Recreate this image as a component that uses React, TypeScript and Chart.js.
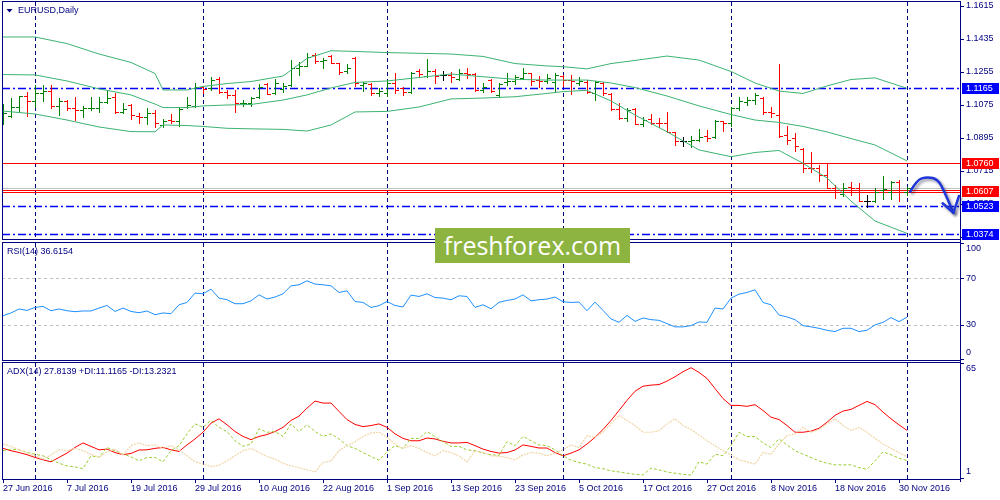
import React, { useEffect, useRef } from "react";
import { Chart, registerables } from "chart.js";

Chart.register(...registerables);

// ---------------- data ----------------
const symbolTitle = "EURUSD,Daily";
const rsiTitle = "RSI(14) 36.6154";
const adxTitle = "ADX(14) 27.8139 +DI:11.1165 -DI:13.2321";

const dateLabels = [
  "27 Jun 2016", "7 Jul 2016", "19 Jul 2016", "29 Jul 2016", "10 Aug 2016",
  "22 Aug 2016", "1 Sep 2016", "13 Sep 2016", "23 Sep 2016", "5 Oct 2016",
  "17 Oct 2016", "27 Oct 2016", "8 Nov 2016", "18 Nov 2016", "30 Nov 2016",
];
const dateLabelIdx = [0, 8, 16, 24, 32, 40, 48, 56, 64, 72, 80, 88, 96, 104, 112];
const monthStartIdx = [4, 25, 48, 70, 91, 113];

const open = [
  1.1016, 1.1017, 1.1063, 1.1126, 1.1099, 1.1139, 1.1154, 1.1070, 1.1099, 1.1058,
  1.1049, 1.1056, 1.1056, 1.1094, 1.1121, 1.1039, 1.1076, 1.1016, 1.1009, 1.1030,
  1.0967, 1.0994, 1.0989, 1.1063, 1.1070, 1.1172, 1.1165, 1.1216, 1.1148, 1.1130,
  1.1085, 1.1085, 1.1118, 1.1190, 1.1139, 1.1161, 1.1185, 1.1276, 1.1288, 1.1348,
  1.1317, 1.1343, 1.1303, 1.1263, 1.1330, 1.1185, 1.1190, 1.1143, 1.1139, 1.1194,
  1.1167, 1.1148, 1.1263, 1.1234, 1.1263, 1.1238, 1.1239, 1.1216, 1.1252, 1.1245,
  1.1158, 1.1212, 1.1130, 1.1203, 1.1208, 1.1221, 1.1248, 1.1212, 1.1208, 1.1203,
  1.1234, 1.1212, 1.1197, 1.1203, 1.1143, 1.1194, 1.1136, 1.1052, 1.1003, 1.1052,
  1.0972, 1.0998, 1.0979, 1.0976, 1.0925, 1.0881, 1.0881, 1.0885, 1.0907, 1.0900,
  1.0985, 1.0976, 1.1058, 1.1094, 1.1103, 1.1112, 1.1039, 1.1021, 1.0912, 1.0894,
  1.0836, 1.0734, 1.0731, 1.0694, 1.0625, 1.0589, 1.0629, 1.0625, 1.0553, 1.0549,
  1.0609, 1.0603, 1.0655, 1.0600,
];
const high = [
  1.1081, 1.1112, 1.1126, 1.1148, 1.1185, 1.1185, 1.1185, 1.1112, 1.1103, 1.1118,
  1.1070, 1.1121, 1.1121, 1.1158, 1.1139, 1.1085, 1.1081, 1.1030, 1.1056, 1.1045,
  1.0998, 1.1027, 1.1063, 1.1121, 1.1194, 1.1179, 1.1230, 1.1227, 1.1158, 1.1158,
  1.1103, 1.1121, 1.1190, 1.1194, 1.1216, 1.1197, 1.1321, 1.1312, 1.1361, 1.1357,
  1.1330, 1.1348, 1.1306, 1.1299, 1.1339, 1.1203, 1.1194, 1.1167, 1.1212, 1.1248,
  1.1175, 1.1257, 1.1270, 1.1325, 1.1270, 1.1263, 1.1257, 1.1270, 1.1276, 1.1248,
  1.1194, 1.1216, 1.1194, 1.1252, 1.1239, 1.1276, 1.1252, 1.1234, 1.1245, 1.1248,
  1.1239, 1.1239, 1.1227, 1.1212, 1.1208, 1.1203, 1.1139, 1.1085, 1.1058, 1.1058,
  1.1012, 1.1027, 1.1003, 1.1039, 1.0930, 1.0900, 1.0907, 1.0943, 1.0940, 1.0994,
  1.0989, 1.1066, 1.1121, 1.1121, 1.1139, 1.1116, 1.1066, 1.1298, 1.0958, 1.0922,
  1.0840, 1.0818, 1.0749, 1.0753, 1.0640, 1.0649, 1.0655, 1.0649, 1.0585, 1.0625,
  1.0690, 1.0658, 1.0667, 1.0630,
];
const low = [
  1.0971, 1.1009, 1.1039, 1.1017, 1.1066, 1.1098, 1.1061, 1.1021, 1.1049, 1.0994,
  1.1009, 1.1049, 1.1039, 1.1085, 1.1030, 1.1034, 1.0998, 1.0979, 1.0972, 1.0954,
  1.0954, 1.0979, 1.0961, 1.1060, 1.1066, 1.1139, 1.1158, 1.1139, 1.1112, 1.1039,
  1.1070, 1.1070, 1.1115, 1.1136, 1.1134, 1.1148, 1.1179, 1.1239, 1.1285, 1.1306,
  1.1276, 1.1303, 1.1245, 1.1252, 1.1179, 1.1154, 1.1130, 1.1125, 1.1125, 1.1143,
  1.1130, 1.1139, 1.1230, 1.1230, 1.1194, 1.1212, 1.1203, 1.1212, 1.1221, 1.1154,
  1.1148, 1.1148, 1.1121, 1.1185, 1.1190, 1.1216, 1.1185, 1.1175, 1.1194, 1.1154,
  1.1179, 1.1136, 1.1185, 1.1143, 1.1103, 1.1130, 1.1049, 1.1000, 1.0985, 1.0969,
  1.0961, 1.0972, 1.0954, 1.0925, 1.0858, 1.0852, 1.0848, 1.0876, 1.0881, 1.0897,
  1.0934, 1.0958, 1.1049, 1.1076, 1.1080, 1.1025, 1.1012, 1.0903, 1.0862, 1.0825,
  1.0709, 1.0712, 1.0661, 1.0622, 1.0567, 1.0576, 1.0585, 1.0549, 1.0521, 1.0545,
  1.0563, 1.0563, 1.0549, 1.0585,
];
const close = [
  1.1030, 1.1063, 1.1125, 1.1099, 1.1139, 1.1154, 1.1070, 1.1099, 1.1058, 1.1049,
  1.1056, 1.1058, 1.1094, 1.1112, 1.1039, 1.1052, 1.1021, 1.1012, 1.1030, 1.0979,
  1.0990, 1.0989, 1.1052, 1.1076, 1.1175, 1.1161, 1.1212, 1.1148, 1.1130, 1.1088,
  1.1088, 1.1112, 1.1175, 1.1136, 1.1194, 1.1179, 1.1276, 1.1288, 1.1339, 1.1317,
  1.1321, 1.1306, 1.1256, 1.1276, 1.1194, 1.1194, 1.1139, 1.1154, 1.1194, 1.1158,
  1.1148, 1.1252, 1.1245, 1.1263, 1.1234, 1.1238, 1.1230, 1.1248, 1.1245, 1.1158,
  1.1172, 1.1154, 1.1190, 1.1208, 1.1227, 1.1252, 1.1208, 1.1208, 1.1221, 1.1239,
  1.1212, 1.1208, 1.1208, 1.1148, 1.1203, 1.1139, 1.1052, 1.1003, 1.1045, 1.0972,
  1.0994, 1.0979, 1.0976, 1.0930, 1.0881, 1.0881, 1.0885, 1.0900, 1.0894, 1.0990,
  1.0976, 1.1058, 1.1098, 1.1103, 1.1130, 1.1039, 1.1030, 1.0907, 1.0885, 1.0854,
  1.0734, 1.0731, 1.0694, 1.0625, 1.0603, 1.0625, 1.0621, 1.0553, 1.0553, 1.0603,
  1.0616, 1.0655, 1.0603, 1.0622,
];

const bbIdx = [0, 4, 8, 12, 16, 19, 20, 23, 25, 28, 31, 35, 38, 41, 44, 48, 52, 56, 60, 64, 68, 70, 73, 76, 79, 83, 87, 91, 94, 97, 100, 103, 106, 109, 113];
const bbUpper = [1.1446, 1.1446, 1.1410, 1.1353, 1.1307, 1.1247, 1.1157, 1.1157, 1.1176, 1.1192, 1.1203, 1.1233, 1.1329, 1.1371, 1.1367, 1.1361, 1.1357, 1.1353, 1.1340, 1.1301, 1.1288, 1.1284, 1.1272, 1.1301, 1.1318, 1.1342, 1.1320, 1.1258, 1.1195, 1.1151, 1.1138, 1.1179, 1.1214, 1.1223, 1.1166];
const bbMiddle = [1.1241, 1.1239, 1.1206, 1.1163, 1.1130, 1.1080, 1.1061, 1.1061, 1.1070, 1.1075, 1.1078, 1.1102, 1.1130, 1.1168, 1.1198, 1.1206, 1.1225, 1.1244, 1.1229, 1.1215, 1.1211, 1.1211, 1.1211, 1.1195, 1.1170, 1.1124, 1.1070, 1.1023, 1.0993, 1.0980, 1.0958, 1.0928, 1.0892, 1.0857, 1.0770];
const bbLower = [1.1042, 1.1026, 1.0993, 1.0955, 1.0930, 1.0929, 1.0966, 1.0963, 1.0958, 1.0948, 1.0945, 1.0942, 1.0933, 1.0966, 1.1037, 1.1040, 1.1064, 1.1108, 1.1113, 1.1120, 1.1138, 1.1148, 1.1155, 1.1097, 1.1020, 1.0929, 1.0830, 1.0793, 1.0816, 1.0827, 1.0757, 1.0677, 1.0551, 1.0442, 1.0375];

const rsi = [
  37.9, 40.2, 43.6, 42.4, 44.9, 45.8, 42.1, 43.6, 42.1, 41.3,
  41.9, 41.9, 44.4, 46.6, 41.5, 44.4, 41.5, 40.4, 41.9, 38.7,
  40.2, 39.6, 47.2, 49.2, 57.2, 56.6, 60.6, 52.9, 51.5, 48.1,
  48.1, 50.6, 55.7, 52.1, 53.8, 56.6, 63.4, 64.3, 67.7, 64.9,
  64.3, 63.4, 57.7, 59.1, 50.0, 49.2, 44.9, 46.4, 50.0, 46.6,
  45.3, 55.5, 54.3, 56.6, 53.4, 52.9, 51.5, 54.9, 54.3, 44.9,
  47.2, 43.8, 49.3, 50.9, 52.1, 55.7, 50.6, 51.5, 52.1, 53.8,
  49.8, 49.2, 49.5, 42.1, 49.5, 42.4, 35.1, 32.2, 38.1, 33.0,
  35.9, 34.5, 33.9, 31.1, 28.3, 28.3, 29.4, 32.5, 32.2, 44.4,
  43.6, 52.9, 56.3, 57.7, 60.0, 49.2, 47.2, 38.5, 36.8, 34.5,
  29.4, 28.3, 27.1, 25.4, 24.3, 27.1, 27.1, 24.3, 25.4, 30.0,
  32.2, 36.2, 32.8, 36.6,
];

const adx = [
  17.9, 16.6, 15.6, 14.4, 12.9, 11.6, 10.5, 12.9, 15.3, 18.4,
  20.9, 19.0, 17.1, 17.5, 15.6, 14.4, 15.1, 17.0, 17.1, 17.9,
  18.4, 17.1, 16.2, 19.8, 23.1, 26.8, 31.8, 34.2, 30.9, 27.2,
  24.5, 22.7, 24.5, 25.5, 27.2, 29.5, 33.3, 35.7, 40.1, 44.0,
  42.9, 42.9, 38.3, 33.8, 31.1, 29.9, 30.5, 31.4, 29.5, 25.9,
  23.4, 22.1, 22.1, 23.6, 23.1, 21.8, 20.9, 20.9, 21.2, 19.4,
  17.5, 16.2, 15.3, 15.6, 17.0, 19.8, 19.0, 18.1, 18.1, 15.6,
  13.8, 15.3, 17.1, 20.3, 24.0, 28.3, 33.3, 38.8, 44.4, 49.4,
  52.2, 52.8, 53.1, 55.0, 57.4, 60.2, 62.4, 59.8, 56.5, 50.9,
  45.4, 41.6, 41.6, 41.1, 42.0, 38.8, 35.1, 33.8, 30.5, 26.8,
  26.8, 27.4, 29.0, 32.3, 36.1, 38.5, 39.4, 41.6, 43.8, 42.0,
  37.9, 34.2, 30.9, 27.8,
];
const plusDI = [
  16.6, 17.5, 17.1, 15.6, 14.7, 13.8, 11.6, 9.7, 8.2, 7.7,
  6.7, 13.8, 12.9, 18.4, 16.6, 14.7, 13.2, 11.0, 12.9, 12.9,
  10.5, 16.6, 19.4, 25.9, 31.4, 29.5, 33.3, 29.5, 27.2, 22.1,
  19.0, 20.3, 28.7, 26.8, 27.2, 24.5, 31.4, 27.2, 30.9, 27.2,
  24.5, 25.9, 23.1, 19.4, 17.9, 15.6, 13.4, 11.4, 16.0, 19.4,
  17.9, 23.4, 23.4, 27.2, 24.4, 21.6, 19.0, 19.0, 17.1, 16.6,
  15.3, 14.4, 14.0, 21.6, 19.4, 24.5, 22.1, 19.8, 19.4, 17.1,
  13.8, 11.4, 10.1, 9.2, 7.3, 6.7, 5.5, 4.9, 4.2, 3.6,
  3.2, 7.0, 6.0, 4.9, 4.2, 3.6, 3.2, 10.5, 9.2, 14.7,
  13.8, 19.4, 26.8, 24.4, 24.4, 20.9, 18.4, 23.1, 19.8, 16.6,
  14.7, 12.9, 11.0, 9.7, 8.8, 8.8, 8.8, 7.3, 6.4, 11.0,
  16.0, 14.4, 12.5, 11.1,
];
const minusDI = [
  20.3, 19.0, 17.1, 15.3, 13.8, 12.0, 14.2, 17.1, 16.6, 17.9,
  16.6, 14.7, 12.9, 16.0, 17.5, 14.2, 19.4, 20.9, 19.4, 19.8,
  17.9, 19.4, 17.0, 13.8, 10.5, 9.2, 7.8, 8.6, 11.0, 13.8,
  16.6, 17.9, 15.6, 13.4, 12.0, 9.7, 8.2, 7.3, 6.0, 4.9,
  10.1, 11.0, 16.6, 19.4, 21.6, 24.4, 26.4, 26.8, 24.0, 20.3,
  17.9, 19.4, 17.9, 15.6, 13.8, 16.6, 15.6, 13.8, 10.5, 16.6,
  15.6, 13.8, 13.5, 12.9, 11.6, 14.2, 15.6, 15.3, 13.8, 15.3,
  17.1, 19.8, 18.4, 24.9, 24.0, 26.8, 31.4, 36.1, 33.3, 30.5,
  26.8, 26.8, 27.7, 31.4, 34.2, 30.5, 28.3, 25.3, 22.1, 19.4,
  16.6, 14.2, 11.6, 10.5, 9.2, 15.6, 14.7, 20.3, 24.9, 25.9,
  29.5, 26.8, 28.3, 31.4, 34.2, 30.5, 27.7, 29.5, 26.8, 23.4,
  20.3, 17.9, 15.6, 13.2,
];

const priceTicks = [1.1615, 1.1435, 1.1255, 1.1075, 1.0895, 1.0715, 1.0535, 1.0355];
const rsiTicks = [100, 70, 30, 0];
const rsiLevels = [70, 30];
const adxTicks = [65, 1];

const blueLevels = [1.1165, 1.0523, 1.0374];
const redLevels = [1.0760, 1.0612, 1.0602];
const redLevelLabels = [1.0760, 1.0607];
const bidPrice = 1.0622;

const arrowIdx = [113.4, 114.2, 115.5, 116.9, 117.75, 118.4, 118.8];
const arrowPrice = [1.0602, 1.0666, 1.0684, 1.0670, 1.0593, 1.0530, 1.0487];
const arrowHeadIdx = [117.45, 118.8, 119.5];
const arrowHeadPrice = [1.0539, 1.0487, 1.0579];

// ---------------- layout / style ----------------
const X_MIN = -0.125;
const X_MAX = 119.625;
const P_MIN = 1.03441;
const P_MAX = 1.16368;
const NAVY = "#000080";
const FONT = '9px "Liberation Sans", Arial, sans-serif';
const UP = "#008000";
const DOWN = "#ff0000";

const idx = (n: number) => Array.from({ length: n }, (_, i) => i);

function lineDs(xs: number[], ys: number[], color: string, dash: number[] = [], width = 1) {
  return {
    data: xs.map((x, k) => ({ x, y: ys[k] })),
    borderColor: color,
    borderWidth: width,
    borderDash: dash,
    pointRadius: 0,
    tension: 0,
    fill: false,
  };
}

function baseOptions(pad: any, yMin: number, yMax: number): any {
  return {
    responsive: false,
    maintainAspectRatio: false,
    animation: false,
    devicePixelRatio: 1,
    events: [],
    layout: { padding: pad },
    scales: {
      x: { type: "linear", display: false, min: X_MIN, max: X_MAX },
      y: { type: "linear", display: false, min: yMin, max: yMax },
    },
    plugins: { legend: { display: false }, tooltip: { enabled: false } },
  };
}

function drawMonthLines(chart: any) {
  const { ctx, chartArea: a, scales } = chart;
  ctx.save();
  ctx.strokeStyle = NAVY;
  ctx.lineWidth = 1;
  ctx.setLineDash([4, 3]);
  for (const m of monthStartIdx) {
    const xx = Math.round(scales.x.getPixelForValue(m)) + 0.5;
    ctx.beginPath();
    ctx.moveTo(xx, a.top);
    ctx.lineTo(xx, a.bottom);
    ctx.stroke();
  }
  ctx.restore();
}

function drawFrame(chart: any, rightFrom: number, rightTo: number) {
  const { ctx, chartArea: a } = chart;
  ctx.save();
  ctx.strokeStyle = NAVY;
  ctx.lineWidth = 1;
  ctx.setLineDash([]);
  ctx.strokeRect(a.left + 0.5, a.top - 0.5, a.right - a.left, a.bottom - a.top + 1);
  ctx.beginPath();
  ctx.moveTo(a.right + 0.5, rightFrom);
  ctx.lineTo(a.right + 0.5, rightTo);
  ctx.stroke();
  ctx.restore();
}

function hLine(chart: any, value: number, color: string, dash: number[], width = 1) {
  const { ctx, chartArea: a, scales } = chart;
  const yy = Math.round(scales.y.getPixelForValue(value)) + 0.5;
  ctx.save();
  ctx.strokeStyle = color;
  ctx.lineWidth = width;
  ctx.setLineDash(dash);
  ctx.beginPath();
  ctx.moveTo(a.left, yy);
  ctx.lineTo(a.right, yy);
  ctx.stroke();
  ctx.restore();
}

function axisLabel(chart: any, text: string, yy: number, tickY?: number) {
  const { ctx, chartArea: a } = chart;
  ctx.save();
  ctx.fillStyle = NAVY;
  ctx.font = FONT;
  ctx.textAlign = "left";
  ctx.textBaseline = "middle";
  ctx.fillText(text, a.right + 6, yy);
  ctx.strokeStyle = NAVY;
  ctx.lineWidth = 1;
  const ty = Math.round(tickY === undefined ? yy : tickY) + 0.5;
  ctx.beginPath();
  ctx.moveTo(a.right, ty);
  ctx.lineTo(a.right + 4, ty);
  ctx.stroke();
  ctx.restore();
}

function titleText(chart: any, text: string, x: number, y: number) {
  const { ctx } = chart;
  ctx.save();
  ctx.fillStyle = NAVY;
  ctx.font = FONT;
  ctx.textAlign = "left";
  ctx.textBaseline = "middle";
  ctx.fillText(text, x, y);
  ctx.restore();
}

const mainPlugin = {
  id: "mt4main",
  beforeDatasetsDraw(chart: any) {
    const { ctx, chartArea: a, scales } = chart;
    const { x, y } = scales;
    drawMonthLines(chart);
    for (const v of blueLevels) hLine(chart, v, "#0000ff", [8, 3, 2, 3], 1.3);
    hLine(chart, bidPrice, "#c0c0c0", []);
    for (const v of redLevels) hLine(chart, v, "#ff0000", []);
    ctx.save();
    ctx.beginPath();
    ctx.rect(a.left, a.top, a.right - a.left, a.bottom - a.top);
    ctx.clip();
    for (let i = 0; i < open.length; i++) {
      const xx = Math.round(x.getPixelForValue(i));
      const yH = Math.round(y.getPixelForValue(high[i]));
      const yL = Math.round(y.getPixelForValue(low[i]));
      const yO = Math.round(y.getPixelForValue(open[i]));
      const yC = Math.round(y.getPixelForValue(close[i]));
      ctx.fillStyle = close[i] > open[i] ? UP : close[i] < open[i] ? DOWN : "#000000";
      ctx.fillRect(xx, yH, 1, Math.max(1, yL - yH + 1));
      ctx.fillRect(xx - 3, yO, 3, 1);
      ctx.fillRect(xx + 1, yC, 3, 1);
    }
    ctx.restore();
  },
  afterDatasetsDraw(chart: any) {
    const { ctx, scales } = chart;
    const { x, y } = scales;
    const pts = arrowIdx.map((v, k) => [x.getPixelForValue(v), y.getPixelForValue(arrowPrice[k])]);
    const head = arrowHeadIdx.map((v, k) => [x.getPixelForValue(v), y.getPixelForValue(arrowHeadPrice[k])]);
    ctx.save();
    ctx.strokeStyle = "#1f36d8";
    ctx.lineWidth = 2.5;
    ctx.lineCap = "round";
    ctx.lineJoin = "round";
    ctx.shadowColor = "rgba(0,0,40,0.45)";
    ctx.shadowBlur = 3;
    ctx.shadowOffsetX = 2;
    ctx.shadowOffsetY = 2;
    ctx.beginPath();
    ctx.moveTo(pts[0][0], pts[0][1]);
    for (let k = 1; k < pts.length - 1; k++) {
      const mx = (pts[k][0] + pts[k + 1][0]) / 2;
      const my = (pts[k][1] + pts[k + 1][1]) / 2;
      ctx.quadraticCurveTo(pts[k][0], pts[k][1], mx, my);
    }
    ctx.lineTo(pts[pts.length - 1][0], pts[pts.length - 1][1]);
    ctx.stroke();
    ctx.beginPath();
    ctx.moveTo(head[0][0], head[0][1]);
    ctx.lineTo(head[1][0], head[1][1]);
    ctx.lineTo(head[2][0], head[2][1]);
    ctx.stroke();
    ctx.restore();
  },
  afterDraw(chart: any) {
    const { ctx, chartArea: a, scales } = chart;
    drawFrame(chart, a.top - 1, chart.height);
    for (const p of priceTicks) axisLabel(chart, p.toFixed(4), scales.y.getPixelForValue(p));
    const boxes = [
      ...blueLevels.map((v) => ({ v, c: "#0000ff" })),
      ...redLevelLabels.map((v) => ({ v, c: "#ff0000" })),
    ];
    for (const b of boxes) {
      const yy = Math.round(scales.y.getPixelForValue(b.v));
      ctx.save();
      ctx.fillStyle = b.c;
      ctx.fillRect(a.right + 2, yy - 5, 37, 11);
      ctx.fillStyle = "#ffffff";
      ctx.font = FONT;
      ctx.textAlign = "left";
      ctx.textBaseline = "middle";
      ctx.fillText(b.v.toFixed(4), a.right + 6, yy + 0.5);
      ctx.restore();
    }
    // title with small triangle
    ctx.save();
    ctx.fillStyle = NAVY;
    ctx.beginPath();
    ctx.moveTo(6.5, 9);
    ctx.lineTo(12.5, 9);
    ctx.lineTo(9.5, 12.5);
    ctx.closePath();
    ctx.fill();
    ctx.restore();
    titleText(chart, symbolTitle, 18, 11);
  },
};

const rsiPlugin = {
  id: "mt4rsi",
  beforeDatasetsDraw(chart: any) {
    drawMonthLines(chart);
    for (const v of rsiLevels) hLine(chart, v, "#c0c0c0", [3, 3]);
  },
  afterDraw(chart: any) {
    const { chartArea: a, scales } = chart;
    drawFrame(chart, 0, chart.height);
    for (const t of rsiTicks) {
      const py = scales.y.getPixelForValue(t);
      const ly = Math.min(Math.max(py, a.top + 6), a.bottom - 7);
      axisLabel(chart, String(t), ly, Math.min(Math.max(py, a.top), a.bottom - 1));
    }
    titleText(chart, rsiTitle, 7, 11);
  },
};

const adxPlugin = {
  id: "mt4adx",
  beforeDatasetsDraw(chart: any) {
    drawMonthLines(chart);
  },
  afterDraw(chart: any) {
    const { ctx, chartArea: a, scales } = chart;
    drawFrame(chart, 0, a.bottom + 3);
    for (const t of adxTicks) {
      const py = scales.y.getPixelForValue(t);
      const ly = Math.min(Math.max(py, a.top + 6), a.bottom - 7);
      axisLabel(chart, String(t), ly, Math.min(Math.max(py, a.top), a.bottom - 1));
    }
    titleText(chart, adxTitle, 7, 10.5);
    ctx.save();
    ctx.fillStyle = NAVY;
    ctx.strokeStyle = NAVY;
    ctx.lineWidth = 1;
    ctx.font = FONT;
    ctx.textAlign = "left";
    ctx.textBaseline = "middle";
    dateLabelIdx.forEach((d, k) => {
      const xx = Math.round(scales.x.getPixelForValue(d)) + 0.5;
      ctx.beginPath();
      ctx.moveTo(xx, a.bottom);
      ctx.lineTo(xx, a.bottom + 4);
      ctx.stroke();
      ctx.fillText(dateLabels[k], xx - 0.5, a.bottom + 9.5);
    });
    ctx.restore();
  },
};

export default function App() {
  const mainRef = useRef<HTMLCanvasElement>(null);
  const rsiRef = useRef<HTMLCanvasElement>(null);
  const adxRef = useRef<HTMLCanvasElement>(null);

  useEffect(() => {
    const n = open.length;
    const charts: Chart[] = [];
    charts.push(
      new Chart(mainRef.current as HTMLCanvasElement, {
        type: "line",
        data: {
          datasets: [
            lineDs(bbIdx, bbUpper, "#3cb371"),
            lineDs(bbIdx, bbMiddle, "#3cb371"),
            lineDs(bbIdx, bbLower, "#3cb371"),
          ] as any,
        },
        options: baseOptions({ left: 2, right: 40, top: 2, bottom: 2 }, P_MIN, P_MAX),
        plugins: [mainPlugin as any],
      })
    );
    charts.push(
      new Chart(rsiRef.current as HTMLCanvasElement, {
        type: "line",
        data: { datasets: [lineDs(idx(n), rsi, "#1e90ff")] as any },
        options: baseOptions({ left: 2, right: 40, top: 2, bottom: 1 }, 0, 100),
        plugins: [rsiPlugin as any],
      })
    );
    charts.push(
      new Chart(adxRef.current as HTMLCanvasElement, {
        type: "line",
        data: {
          datasets: [
            lineDs(idx(n), minusDI, "#f0d6a6", [2, 1], 1.2),
            lineDs(idx(n), plusDI, "#9acd32", [3, 2]),
            lineDs(idx(n), adx, "#ff0000"),
          ] as any,
        },
        options: baseOptions({ left: 2, right: 40, top: 2, bottom: 21 }, 1, 65),
        plugins: [adxPlugin as any],
      })
    );
    return () => charts.forEach((c) => c.destroy());
  }, []);

  const cv = (top: number, h: number): React.CSSProperties => ({
    position: "absolute",
    left: 0,
    top,
    width: 1000,
    height: h,
    display: "block",
  });

  return (
    <div
      style={{
        position: "fixed",
        left: 0,
        top: 0,
        width: 1000,
        height: 500,
        background: "#ffffff",
        overflow: "hidden",
      }}
    >
      <canvas ref={mainRef} width={1000} height={241} style={cv(0, 241)} />
      <canvas ref={rsiRef} width={1000} height={120} style={cv(241, 120)} />
      <canvas ref={adxRef} width={1000} height={139} style={cv(361, 139)} />
      <div
        style={{
          position: "absolute",
          left: 435,
          top: 228,
          width: 195,
          height: 35,
          background: "#8db441",
          color: "#ffffff",
          font: '25px "Open Sans", sans-serif',
          lineHeight: "35px",
          textAlign: "center",
          whiteSpace: "nowrap",
        }}
      >
        freshforex.com
      </div>
    </div>
  );
}
